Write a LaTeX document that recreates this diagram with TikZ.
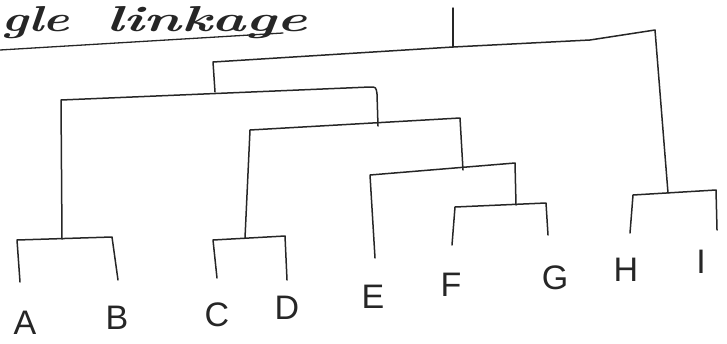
\documentclass[tikz,border=0pt]{standalone}
\usepackage{fontspec}
\newfontfamily\labfont{Liberation Sans}
\begin{document}
\begin{tikzpicture}[x=1pt,y=-1pt,
  link/.style={draw=black!85, line width=1.5pt, line join=round, line cap=round},
  leaf/.style={font=\labfont\fontsize{34}{34}\selectfont, text=black!85, inner sep=0pt},
  title/.style={anchor=base west, inner sep=0pt, text=black!85}]
\useasboundingbox (0,0) rectangle (727,343);
% title
\node[title] (t1) at (1,31)
  {\scalebox{1.4}[1]{\fontsize{36}{36}\selectfont\bfseries\itshape gle}};
\node[title] (t2) at (106,31)
  {\scalebox{1.6}[1]{\fontsize{36}{36}\selectfont\bfseries\itshape linkage}};
\coordinate (u1) at (0,50);
\coordinate (u2) at (283,33);
\draw[link, line width=1.3pt] (u1) -- (u2);
% leaf labels
\node[leaf] (A) at (25,323) {A};
\node[leaf] (B) at (117,318) {B};
\node[leaf] (C) at (217,315) {C};
\node[leaf] (D) at (287,308) {D};
\node[leaf] (E) at (373,297) {E};
\node[leaf] (F) at (451,285) {F};
\node[leaf] (G) at (555,278) {G};
\node[leaf] (H) at (626,270) {H};
\node[leaf] (I) at (701,262) {I};
% leg ends
\coordinate (a) at (20,282);
\coordinate (b) at (118,280);
\coordinate (c) at (217,278);
\coordinate (d) at (287,280);
\coordinate (e) at (375,258);
\coordinate (f) at (452,245);
\coordinate (g) at (548,235);
\coordinate (h) at (630,233);
\coordinate (i) at (717,230);
% merge points
\coordinate (ab) at (62,239);
\coordinate (cd) at (245,238);
\coordinate (fg) at (516,205);
\coordinate (efg) at (463,170);
\coordinate (cdefg) at (378,126);
\coordinate (abcdefg) at (215,92);
\coordinate (hi) at (668,193);
\coordinate (root) at (453,47);
\coordinate (top) at (453,8);
% clusters
\draw[link] (a) -- (17,240) -- (112,237) -- (b);
\draw[link] (c) -- (213,240) -- (285,236) -- (d);
\draw[link] (f) -- (455,207) -- (546,203) -- (g);
\draw[link] (h) -- (633,195) -- (716,190) -- (i);
\draw[link] (e) -- (370,175) -- (515,163) -- (fg);
\draw[link] (cd) -- (250,130) -- (460,118) -- (efg);
\draw[link] (ab) -- (61,100) -- (370,87) .. controls (376,87) .. (377,94) -- (cdefg);
\draw[link] (abcdefg) -- (213,62) -- (root) -- (590,40) -- (655,30) -- (hi);
\draw[link] (root) -- (top);
\end{tikzpicture}
\end{document}
